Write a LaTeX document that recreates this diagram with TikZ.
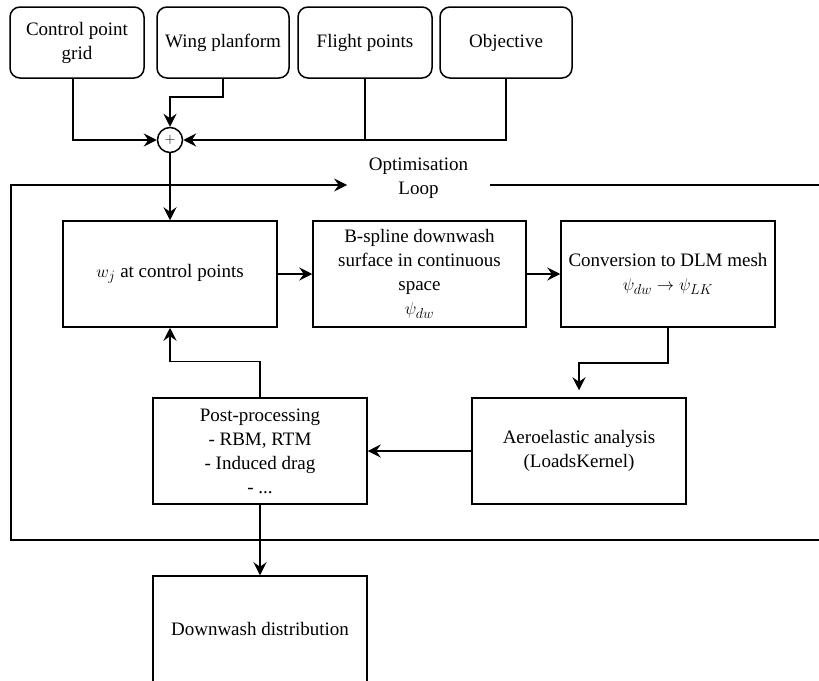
\documentclass[tikz,border=0pt]{standalone}
\usepackage{fontspec}
\setmainfont{LiberationSerif}[Extension=.ttf, UprightFont=*-Regular, BoldFont=*-Bold, ItalicFont=*-Italic, BoldItalicFont=*-BoldItalic]
\usetikzlibrary{arrows.meta}
\begin{document}
\begin{tikzpicture}[x=1pt,y=-1pt,
  line width=1.5pt,
  txt/.style={font=\fontsize{19}{24}\selectfont, align=center},
  inbox/.style={txt, draw, rounded corners=10pt, minimum width=134pt, minimum height=71pt, inner sep=2pt},
  pbox/.style={txt, draw, minimum width=214pt, minimum height=106pt, inner sep=2pt},
  sumnode/.style={draw, circle, minimum size=25pt, inner sep=0pt, font=\fontsize{14}{14}\selectfont},
  looplabel/.style={txt, inner xsep=21pt, inner ysep=0pt},
  arr/.style={-{Stealth[length=13pt,width=13pt,inset=4.5pt]}}
]
\useasboundingbox (0,0) rectangle (819,680);
\begin{scope}
\clip (0,0) rectangle (819,680);

% input boxes
\node[inbox] (cg) at (77,42.5) {Control point\\grid};
\node[inbox, minimum width=132pt] (wp) at (223,42.5) {Wing planform};
\node[inbox] (fp) at (365,42.5) {Flight points};
\node[inbox, minimum width=132pt] (obj) at (506,42.5) {Objective};
\node[sumnode] (sum) at (170,140) {$+$};

% process boxes
\node[pbox] (wj) at (170,274) {$w_j$ at control points};
\node[pbox, minimum width=213pt] (bs) at (419.5,274) {B-spline downwash\\surface in continuous\\space\\$\psi_{dw}$};
\node[pbox] (cv) at (668,274) {Conversion to DLM mesh\\$\psi_{dw}\rightarrow\psi_{LK}$};
\node[pbox] (ae) at (579,451) {Aeroelastic analysis\\(LoadsKernel)};
\node[pbox] (pp) at (260,451) {Post-processing\\- RBM, RTM\\- Induced drag\\- ...};
\node[pbox] (dw) at (260,629) {Downwash distribution};

% optimisation loop
\coordinate (lpTL) at (11,185);
\coordinate (lpBL) at (11,540);
\coordinate (lpBR) at (819,540);
\coordinate (lpTR) at (819,185);
\node[looplabel] (loop) at (418.5,178) {Optimisation\\Loop};
\draw[arr] (lpBR) -- (lpBL) -- (lpTL) -- (lpTL -| loop.west);
\draw (lpTL -| loop.east) -- (lpTR);

% connectors
\draw[arr] ([xshift=-4pt]cg.south) |- (sum.west);
\draw[arr] (wp.south) -- ++(0,18) -| (sum.north);
\draw[arr] (fp.south) |- (sum.east);
\draw (obj.south) |- (fp.south |- sum.east);
\draw[arr] (sum.south) -- (sum.south |- wj.north);
\draw[arr] (wj) -- (bs);
\draw[arr] (bs) -- (cv);
\draw[arr, shorten >=7pt] (cv.south) -- ++(0,35) -| (ae.north);
\draw[arr] (ae) -- (pp);
\draw[arr] (pp.north) -- ++(0,-36) -| (wj.south);
\draw[arr] (pp.south) -- (dw.north);
\end{scope}
\end{tikzpicture}
\end{document}
